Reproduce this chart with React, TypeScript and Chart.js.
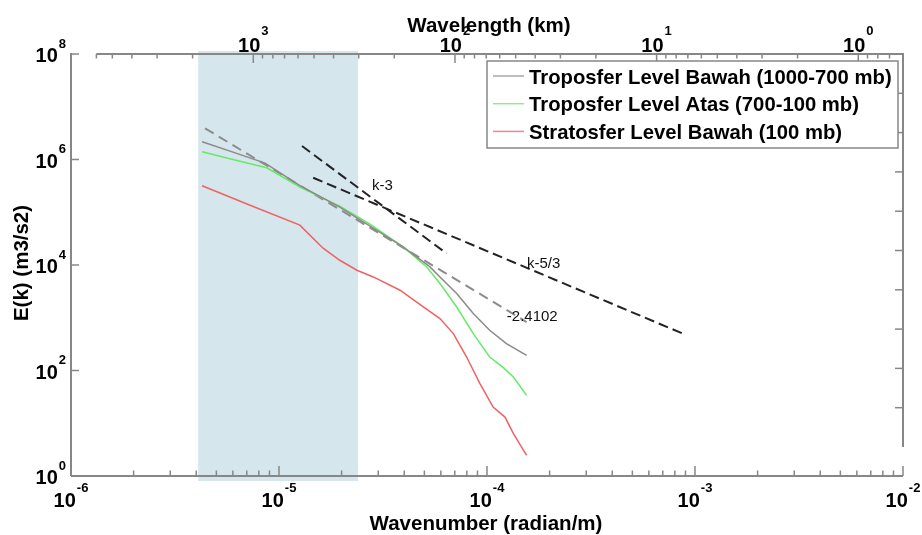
import React, { useEffect, useRef } from 'react';
import { Chart, registerables } from 'chart.js';

Chart.register(...registerables);

// ---- Data ----
const seriesLabels = [
  'Troposfer Level Bawah (1000-700 mb)',
  'Troposfer Level Atas (700-100 mb)',
  'Stratosfer Level Bawah (100 mb)',
];
const seriesColors = ['#8a8a8a', '#66ea66', '#ee6262'];

const kLower = [4.27e-6, 6.01e-6, 8.57e-6, 1.26e-5, 1.96e-5, 2.74e-5, 3.95e-5, 5.32e-5, 5.94e-5, 7.15e-5, 8.57e-5, 1.03e-4, 1.24e-4, 1.55e-4];
const eLower = [2.17e6, 1.38e6, 8.55e5, 3.2e5, 1.25e5, 5.45e4, 2.2e4, 9.2e3, 5.94e3, 2.88e3, 1.22e3, 580, 324, 194];

const kUpper = [4.27e-6, 6.14e-6, 8.73e-6, 1.26e-5, 1.96e-5, 2.74e-5, 3.95e-5, 5.13e-5, 5.94e-5, 7.15e-5, 8.59e-5, 1.03e-4, 1.19e-4, 1.34e-4, 1.55e-4];
const eUpper = [1.4e6, 9.8e5, 6.96e5, 2.99e5, 1.31e5, 5.94e4, 2.2e4, 9.2e3, 4.46e3, 1.6e3, 501, 180, 116, 75.3, 33.8];

const kStrato = [4.27e-6, 7.26e-6, 1.26e-5, 1.63e-5, 1.96e-5, 2.37e-5, 2.84e-5, 3.82e-5, 4.59e-5, 5.94e-5, 6.89e-5, 7.98e-5, 9.25e-5, 1.07e-4, 1.22e-4, 1.34e-4, 1.55e-4];
const eStrato = [3.17e5, 1.36e5, 5.69e4, 2.08e4, 1.23e4, 7.96e3, 5.94e3, 3.32e3, 1.97e3, 966, 501, 180, 56.4, 20.3, 13.1, 6.35, 2.46];

// fitted / reference slope lines
const fitK = [4.41e-6, 1.55e-4];
const fitE = [3.9e6, 830];
const slope3K = [1.29e-5, 6.4e-5];
const slope3E = [1.8e6, 1.65e4];
const slope53K = [1.46e-5, 8.96e-4];
const slope53E = [4.5e5, 480];

const annotationTexts = ['k-3', 'k-5/3', '-2.4102'];
const annotationK = [2.8e-5, 1.556e-4, 1.245e-4];
const annotationE = [3.1e5, 1.035e4, 1.02e3];

const bandRange = [4.09e-6, 2.4e-5];

const xTickExponents = [-6, -5, -4, -3, -2];
const yTickExponents = [0, 2, 4, 6, 8];
const topTickExponents = [3, 2, 1, 0];
const topAxisStartKm = 6000;
const rightTickFractions = [0.1, 0.2, 0.3, 0.4, 0.5, 0.6, 0.7, 0.8, 0.9];

const FONT = '"Liberation Sans", Arial, Helvetica, sans-serif';
const AXIS_COLOR = '#878787';

const pts = (ks: number[], es: number[]) => ks.map((k, i) => ({ x: k, y: es[i] }));

function line(ctx: CanvasRenderingContext2D, x1: number, y1: number, x2: number, y2: number) {
  ctx.beginPath();
  ctx.moveTo(x1, y1);
  ctx.lineTo(x2, y2);
  ctx.stroke();
}

function powLabel(
  ctx: CanvasRenderingContext2D,
  exp: number,
  x: number,
  baseY: number,
  expY: number,
  align: 'center' | 'right'
) {
  const base = '10';
  const e = String(exp);
  ctx.font = `bold 20px ${FONT}`;
  const wb = ctx.measureText(base).width;
  ctx.font = `bold 13px ${FONT}`;
  const we = ctx.measureText(e).width;
  const gap = 1;
  const total = wb + gap + we;
  const start = align === 'center' ? x - total / 2 : x - total;
  ctx.textAlign = 'left';
  ctx.textBaseline = 'alphabetic';
  ctx.fillStyle = '#000';
  ctx.font = `bold 20px ${FONT}`;
  ctx.fillText(base, start, baseY);
  ctx.font = `bold 13px ${FONT}`;
  ctx.fillText(e, start + wb + gap, expY);
}

const framePlugin = {
  id: 'frame',
  beforeDatasetsDraw(chart: any) {
    const { ctx, chartArea: ca, scales } = chart;
    const l = scales.x.getPixelForValue(bandRange[0]);
    const r = scales.x.getPixelForValue(bandRange[1]);
    ctx.save();
    ctx.fillStyle = '#d5e6ec';
    ctx.fillRect(l, ca.top - 3, r - l, ca.bottom - ca.top + 8);
    ctx.restore();
  },
  afterDraw(chart: any) {
    const { ctx, chartArea: ca, scales } = chart;
    const { x, y, x2, y2 } = scales;
    ctx.save();
    ctx.strokeStyle = AXIS_COLOR;
    ctx.lineCap = 'butt';

    // axis lines
    ctx.lineWidth = 2;
    line(ctx, ca.left, ca.bottom, ca.right, ca.bottom);
    line(ctx, ca.left, ca.top - 1, ca.left, ca.bottom);
    const topStart = x2.getPixelForValue(topAxisStartKm);
    line(ctx, topStart, ca.top, ca.right, ca.top);
    line(ctx, ca.right, y2.getPixelForValue(1) - 1, ca.right, y2.getPixelForValue(0));

    // bottom ticks
    ctx.lineWidth = 1.5;
    xTickExponents.forEach((e) => {
      for (let m = 1; m <= 9; m++) {
        const v = m * Math.pow(10, e);
        if (v > x.max * 1.0001) break;
        const px = x.getPixelForValue(v);
        line(ctx, px, ca.bottom, px, ca.bottom - (m === 1 ? 10 : 5.5));
      }
    });
    // left ticks
    yTickExponents.forEach((e) => {
      const py = y.getPixelForValue(Math.pow(10, e));
      line(ctx, ca.left, py, ca.left + 8, py);
    });
    // top ticks
    for (let e = -1; e <= 3; e++) {
      for (let m = 1; m <= 9; m++) {
        const v = m * Math.pow(10, e);
        if (v < x2.min || v > topAxisStartKm) continue;
        const px = x2.getPixelForValue(v);
        line(ctx, px, ca.top, px, ca.top + (m === 1 ? 9 : 4.5));
      }
    }
    // right ticks
    rightTickFractions.forEach((f) => {
      const py = y2.getPixelForValue(f);
      line(ctx, ca.right, py, ca.right - 8, py);
    });

    // tick labels
    xTickExponents.forEach((e) => {
      const px = x.getPixelForValue(Math.pow(10, e));
      powLabel(ctx, e, px, ca.bottom + 31, ca.bottom + 16, 'center');
    });
    yTickExponents.forEach((e) => {
      const py = y.getPixelForValue(Math.pow(10, e));
      powLabel(ctx, e, ca.left - 5, py + 8, py - 6.5, 'right');
    });
    topTickExponents.forEach((e) => {
      const px = x2.getPixelForValue(Math.pow(10, e));
      powLabel(ctx, e, px, ca.top - 2.5, ca.top - 19, 'center');
    });

    // axis titles
    ctx.fillStyle = '#000';
    ctx.font = `bold 20.5px ${FONT}`;
    ctx.textAlign = 'center';
    ctx.textBaseline = 'alphabetic';
    const cx = (ca.left + ca.right) / 2;
    ctx.fillText('Wavelength (km)', cx + 2, 31.5);
    ctx.fillText('Wavenumber (radian/m)', cx - 1, 530);
    ctx.save();
    ctx.translate(28, 263);
    ctx.rotate(-Math.PI / 2);
    ctx.fillText('E(k) (m3/s2)', 0, 0);
    ctx.restore();

    // annotations
    ctx.font = `15px ${FONT}`;
    ctx.textAlign = 'left';
    ctx.textBaseline = 'middle';
    ctx.fillStyle = '#111';
    annotationTexts.forEach((t, i) => {
      ctx.fillText(t, x.getPixelForValue(annotationK[i]), y.getPixelForValue(annotationE[i]));
    });

    // legend
    const lx = 487, ly = 61, lw = 411, lh = 87;
    ctx.fillStyle = '#fff';
    ctx.fillRect(lx, ly, lw, lh);
    ctx.strokeStyle = AXIS_COLOR;
    ctx.lineWidth = 1.5;
    ctx.strokeRect(lx, ly, lw, lh);
    ctx.font = `bold 21px ${FONT}`;
    ctx.textBaseline = 'alphabetic';
    ctx.textAlign = 'left';
    seriesLabels.forEach((label, i) => {
      const rowY = 76 + i * 27.7;
      ctx.strokeStyle = seriesColors[i];
      ctx.globalAlpha = 0.75;
      ctx.lineWidth = 1.5;
      line(ctx, 493, rowY, 524, rowY);
      ctx.globalAlpha = 1;
      ctx.fillStyle = '#000';
      ctx.save();
      ctx.translate(529, rowY + 7.5);
      ctx.scale(0.965, 1);
      ctx.fillText(label, 0, 0);
      ctx.restore();
    });
    ctx.restore();
  },
};

export default function App() {
  const ref = useRef<HTMLCanvasElement | null>(null);
  useEffect(() => {
    if (!ref.current) return;
    const curve = (i: number, ks: number[], es: number[]) => ({
      label: seriesLabels[i],
      data: pts(ks, es),
      borderColor: seriesColors[i],
      backgroundColor: seriesColors[i],
      borderWidth: 1.5,
      showLine: true,
      pointRadius: 0,
      tension: 0,
      xAxisID: 'x',
      yAxisID: 'y',
    });
    const dashed = (label: string, ks: number[], es: number[], color: string, dash: number[], width: number) => ({
      label,
      data: pts(ks, es),
      borderColor: color,
      backgroundColor: color,
      borderWidth: width,
      borderDash: dash,
      showLine: true,
      pointRadius: 0,
      xAxisID: 'x',
      yAxisID: 'y',
    });
    const chart = new Chart(ref.current, {
      type: 'scatter',
      data: {
        datasets: [
          curve(0, kLower, eLower),
          curve(1, kUpper, eUpper),
          curve(2, kStrato, eStrato),
          dashed('fit -2.4102', fitK, fitE, '#8c8c8c', [10, 6], 2),
          dashed('k-3', slope3K, slope3E, '#222', [10, 5], 2),
          dashed('k-5/3', slope53K, slope53E, '#222', [10, 5], 2),
        ] as any,
      },
      options: {
        responsive: false,
        animation: false,
        layout: { padding: { left: 71, right: 19, top: 54, bottom: 59 } },
        plugins: { legend: { display: false }, tooltip: { enabled: false } },
        scales: {
          x: { type: 'logarithmic', min: 1e-6, max: 1e-2, display: false },
          y: { type: 'logarithmic', min: 1, max: 1e8, display: false },
          x2: { type: 'logarithmic', axis: 'x', position: 'top', min: 0.627, max: 8017, reverse: true, display: false },
          y2: { type: 'linear', axis: 'y', position: 'right', min: -0.0738, max: 1, display: false },
        } as any,
      },
      plugins: [framePlugin],
    });
    return () => chart.destroy();
  }, []);
  return (
    <div style={{ position: 'absolute', left: 0, top: 0, width: 922, height: 535, background: '#fff' }}>
      <canvas ref={ref} width={922} height={535} style={{ display: 'block' }} />
    </div>
  );
}
